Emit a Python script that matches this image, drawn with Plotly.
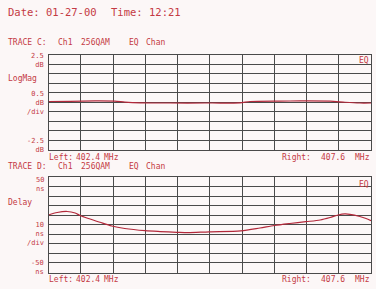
import plotly.graph_objects as go

# ---- data ----
freq_mag = [402.40, 402.75, 403.15, 403.47, 403.63, 403.88, 404.36, 404.92,
            405.49, 405.65, 406.13, 406.46, 406.94, 407.18, 407.42, 407.60]
logmag_db = [0.04, 0.05, 0.07, 0.06, 0.01, -0.03, -0.04, -0.04,
             -0.03, 0.04, 0.06, 0.07, 0.06, 0.00, -0.04, -0.04]

freq_delay = [402.40, 402.54, 402.70, 402.83, 402.91, 403.07, 403.23, 403.42,
              403.63, 403.96, 404.20, 404.47, 404.65, 404.99, 405.50, 405.81,
              406.04, 406.29, 406.55, 406.78, 406.94, 407.07, 407.18, 407.26,
              407.42, 407.52, 407.60]
delay_ns = [10.2, 12.8, 13.9, 12.3, 9.7, 6.0, 2.6, -1.3, -3.9, -6.2, -7.1,
            -7.9, -8.3, -7.4, -6.5, -3.4, -0.8, 1.3, 3.2, 5.0, 7.6, 10.2,
            11.3, 10.9, 8.6, 6.5, 4.2]

f_start, f_stop = 402.4, 407.6
mag_range = [-2.5, 2.5]
mag_div = 0.5
delay_range = [-50, 50]
delay_div = 10

W, H = 376, 289
TXT = "#c43a44"
LINE = "#b3283a"
GRID = "#4a4a4a"
BG = "#fcf7f7"
FONT = "DejaVu Sans Mono"

fig = go.Figure()
fig.add_trace(go.Scatter(x=freq_mag, y=logmag_db, mode="lines",
                         line=dict(color=LINE, width=1.2, shape="spline", smoothing=0.6),
                         xaxis="x", yaxis="y", showlegend=False))
fig.add_trace(go.Scatter(x=freq_delay, y=delay_ns, mode="lines",
                         line=dict(color=LINE, width=1.2, shape="spline", smoothing=0.8),
                         xaxis="x2", yaxis="y2", showlegend=False))

xd = [48.5 / W, 371 / W]
top_dom = [1 - 150 / H, 1 - 54.5 / H]
bot_dom = [1 - 272.5 / H, 1 - 177 / H]

xax = dict(range=[f_start, f_stop], tick0=f_start, dtick=(f_stop - f_start) / 10,
           showticklabels=False, showgrid=True, gridcolor=GRID, gridwidth=0.8,
           showline=True, linecolor=GRID, linewidth=1, mirror=True,
           zeroline=False, ticks="", domain=xd, fixedrange=True)
fig.update_layout(
    width=W, height=H, margin=dict(l=0, r=0, t=0, b=0),
    paper_bgcolor=BG, plot_bgcolor=BG,
    xaxis=dict(xax, anchor="y"),
    xaxis2=dict(xax, anchor="y2"),
    yaxis=dict(range=mag_range, tick0=mag_range[0], dtick=mag_div,
               showticklabels=False, showgrid=True, gridcolor=GRID, gridwidth=0.8,
               showline=True, linecolor=GRID, linewidth=1, mirror=True,
               zeroline=False, ticks="", domain=top_dom, anchor="x"),
    yaxis2=dict(range=delay_range, tick0=delay_range[0], dtick=delay_div,
                showticklabels=False, showgrid=True, gridcolor=GRID, gridwidth=0.8,
                showline=True, linecolor=GRID, linewidth=1, mirror=True,
                zeroline=False, ticks="", domain=bot_dom, anchor="x2"),
)

def txt(s, x, y, anchor="left", size=8, align=None):
    fig.add_annotation(text=s, x=x / W, y=1 - y / H, xref="paper", yref="paper",
                       xanchor=anchor, yanchor="middle", showarrow=False,
                       borderpad=0, align=align or anchor,
                       font=dict(family=FONT, size=size, color=TXT))

SK = 7  # size of stacked scale labels

# header
txt("Date:", 7, 12.5, size=10.5)
txt("01-27-00", 45, 12.5, size=10.5)
txt("Time:", 110, 12.5, size=10.5)
txt("12:21", 148, 12.5, size=10.5)

# trace C
txt("TRACE C:", 7, 42.5)
txt("Ch1", 57, 42.5)
txt("256QAM", 80, 42.5)
txt("EQ", 128, 42.5)
txt("Chan", 145, 42.5)
txt("2.5<br>dB", 45, 60.5, "right", SK)
txt("LogMag", 7, 79)
txt("0.5<br>dB<br>/div", 45, 103, "right", SK)
txt("-2.5<br>dB", 45, 145, "right", SK)
txt("EQ", 370, 60.5, "right")
txt("Left:", 48, 157)
txt("402.4", 75, 157)
txt("MHz", 103, 157)
txt("Right:", 281, 157)
txt("407.6", 320, 157)
txt("MHz", 371, 157, "right")

# trace D
txt("TRACE D:", 7, 166)
txt("Ch1", 57, 166)
txt("256QAM", 80, 166)
txt("EQ", 128, 166)
txt("Chan", 145, 166)
txt("50<br>ns", 45, 184, "right", SK)
txt("Delay", 7, 202)
txt("10<br>ns<br>/div", 45, 234, "right", SK)
txt("-50<br>ns", 45, 267.5, "right", SK)
txt("EQ", 370, 184, "right")
txt("Left:", 48, 279.5)
txt("402.4", 75, 279.5)
txt("MHz", 103, 279.5)
txt("Right:", 281, 279.5)
txt("407.6", 320, 279.5)
txt("MHz", 371, 279.5, "right")

fig.write_html("out.html")
